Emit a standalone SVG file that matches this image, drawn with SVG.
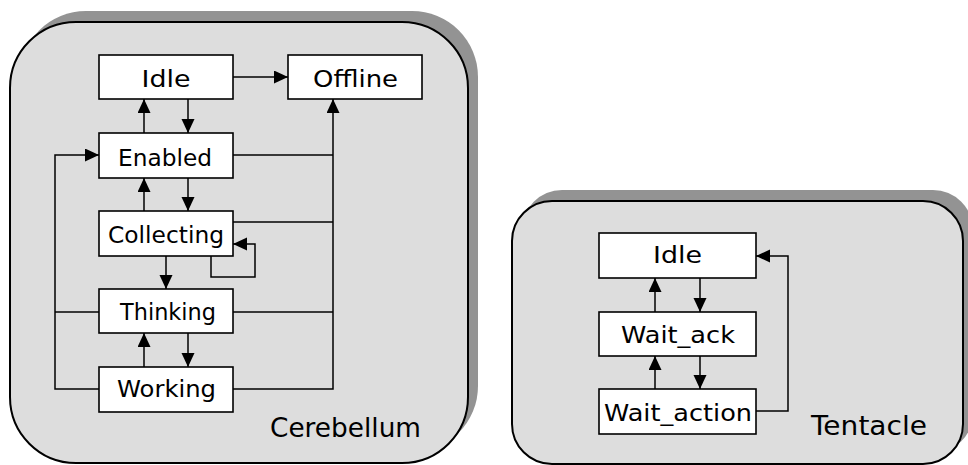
<svg xmlns="http://www.w3.org/2000/svg" width="968" height="465" viewBox="0 0 968 465">
<defs>
<marker id="ah" markerUnits="userSpaceOnUse" markerWidth="14" markerHeight="14" refX="14" refY="6.5" orient="auto">
<path d="M0,0 L14,6.5 L0,13 Z" fill="#000"/>
</marker>
<style>
.shadow{fill:#939393;stroke:none}
.panel{fill:#dddddd;stroke:#000;stroke-width:2}
.box{fill:#fff;stroke:#000;stroke-width:1.6}
.lbl{font-family:"DejaVu Sans","Liberation Sans",sans-serif;font-size:22.5px;fill:#000;text-anchor:middle}
.big{font-family:"DejaVu Sans","Liberation Sans",sans-serif;font-size:27px;fill:#000;text-anchor:middle}
.c{fill:none;stroke:#000;stroke-width:1.5}
.a{marker-end:url(#ah)}
</style>
</defs>
<g id="cerebellum">
<rect class="shadow" x="20" y="11" width="458" height="441" rx="66" ry="66"/>
<rect class="panel" x="10" y="22" width="458" height="441" rx="66" ry="66"/>
<text class="big" x="345.5" y="437" textLength="151" lengthAdjust="spacingAndGlyphs">Cerebellum</text>
</g>
<g id="tentacle">
<rect class="shadow" x="522" y="190" width="451" height="263" rx="40" ry="40"/>
<rect class="panel" x="512" y="201" width="451" height="263" rx="40" ry="40"/>
<text class="big" x="869" y="435" textLength="116" lengthAdjust="spacingAndGlyphs">Tentacle</text>
</g>
<g id="connectors">
<path class="c a" d="M233,77 H288"/>
<path class="c a" d="M144,133 V99"/>
<path class="c a" d="M188,99 V133"/>
<path class="c a" d="M144,211 V178"/>
<path class="c a" d="M188,178 V211"/>
<path class="c a" d="M166,256 V289"/>
<path class="c a" d="M211,256 V277 H255 V244 H233"/>
<path class="c a" d="M144,367 V333"/>
<path class="c a" d="M188,333 V367"/>
<path class="c" d="M233,155 H333"/>
<path class="c" d="M233,222 H333"/>
<path class="c" d="M233,312 H333"/>
<path class="c a" d="M233,389 H333 V99"/>
<path class="c a" d="M99,389 H55 V155 H99"/>
<path class="c" d="M99,312 H55"/>
<path class="c a" d="M655,312 V278"/>
<path class="c a" d="M700,278 V312"/>
<path class="c a" d="M655,389 V356"/>
<path class="c a" d="M700,356 V389"/>
<path class="c a" d="M756,411 H788 V256 H756"/>
</g>
<g id="c-idle"><rect class="box" x="99" y="55" width="134" height="44"/><text class="lbl" x="166" y="87" textLength="49" lengthAdjust="spacingAndGlyphs">Idle</text></g>
<g id="c-offline"><rect class="box" x="288" y="55" width="134" height="44"/><text class="lbl" x="355.5" y="87" textLength="85" lengthAdjust="spacingAndGlyphs">Offline</text></g>
<g id="c-enabled"><rect class="box" x="99" y="133" width="134" height="45"/><text class="lbl" x="165" y="166" textLength="94" lengthAdjust="spacingAndGlyphs">Enabled</text></g>
<g id="c-collecting"><rect class="box" x="99" y="211" width="134" height="45"/><text class="lbl" x="166" y="243" textLength="116" lengthAdjust="spacingAndGlyphs">Collecting</text></g>
<g id="c-thinking"><rect class="box" x="99" y="289" width="134" height="44"/><text class="lbl" x="168" y="320" textLength="96" lengthAdjust="spacingAndGlyphs">Thinking</text></g>
<g id="c-working"><rect class="box" x="99" y="367" width="134" height="45"/><text class="lbl" x="166.5" y="397" textLength="99" lengthAdjust="spacingAndGlyphs">Working</text></g>
<g id="t-idle"><rect class="box" x="599" y="233" width="157" height="45"/><text class="lbl" x="677.5" y="263" textLength="49" lengthAdjust="spacingAndGlyphs">Idle</text></g>
<g id="t-wait-ack"><rect class="box" x="599" y="312" width="157" height="44"/><text class="lbl" x="678" y="343" textLength="114" lengthAdjust="spacingAndGlyphs">Wait_ack</text></g>
<g id="t-wait-action"><rect class="box" x="599" y="389" width="157" height="45"/><text class="lbl" x="678" y="421" textLength="148" lengthAdjust="spacingAndGlyphs">Wait_action</text></g>
</svg>
